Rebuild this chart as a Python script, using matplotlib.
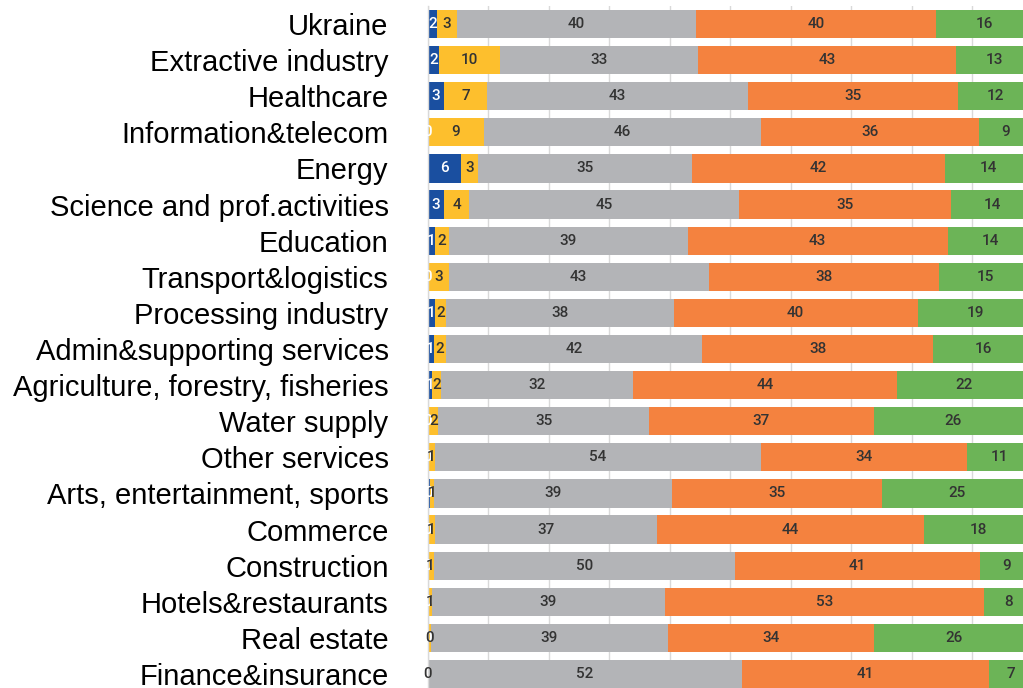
import matplotlib
matplotlib.use("Agg")
import matplotlib.pyplot as plt
import numpy as np

categories = ["Ukraine", "Extractive industry", "Healthcare", "Information&telecom", "Energy",
              "Science and prof.activities", "Education", "Transport&logistics", "Processing industry",
              "Admin&supporting services", "Agriculture, forestry, fisheries", "Water supply",
              "Other services", "Arts, entertainment, sports", "Commerce", "Construction",
              "Hotels&restaurants", "Real estate", "Finance&insurance"]

blue = [1.6, 1.9, 2.8, 0.1, 5.5, 2.8, 1.2, 0.1, 1.2, 1.0, 0.7, 0.1, 0.0, 0.35, 0.1, 0.0, 0.0, 0.1, 0.0]
yellow = [3.2, 10.1, 7.0, 9.2, 2.9, 4.1, 2.4, 3.4, 1.8, 2.0, 1.5, 1.7, 1.3, 0.8, 1.1, 1.0, 0.7, 0.45, 0.0]
gray = [39.6, 32.7, 43.2, 45.9, 35.4, 44.6, 39.4, 43.0, 37.7, 42.4, 31.7, 34.8, 53.8, 39.3, 36.8, 49.8, 38.6, 39.2, 52.0]
orange = [39.7, 42.6, 34.7, 35.9, 41.7, 35.0, 43.0, 38.0, 40.3, 38.2, 43.7, 37.2, 34.1, 34.7, 44.0, 40.6, 52.7, 34.1, 40.8]
green = [15.9, 12.7, 12.4, 8.8, 14.5, 13.6, 14.0, 15.4, 19.0, 16.4, 22.3, 26.2, 10.8, 24.8, 18.0, 8.8, 8.0, 26.2, 7.2]

series = [blue, yellow, gray, orange, green]
colors = ["#1a4fa0", "#fdbf2d", "#b3b4b7", "#f4823f", "#6cb457"]
label_colors = ["white", "#333333", "#333333", "#333333", "#333333"]

W, H = 1023, 688
fig = plt.figure(figsize=(W / 100, H / 100), dpi=100)
x0 = 427.5
scale = 6.05  # px per unit
top_px, bot_px = 5.94, 692.06
ax = fig.add_axes([x0 / W, (H - bot_px) / H, 100 * scale / W, (bot_px - top_px) / H])

y = np.arange(len(categories))
left = np.zeros(len(categories))
for vals, c, lc in zip(series, colors, label_colors):
    vals = np.array(vals)
    ax.barh(y, vals, left=left, height=0.78, color=c, zorder=2, linewidth=0)
    for yi, (l, v) in enumerate(zip(left, vals)):
        ax.text(l + v / 2, yi, f"{v:.0f}", ha="center", va="center", color=lc,
                fontsize=11, family="Roboto", fontweight="medium", zorder=5)
    left = left + vals

ax.set_xlim(0, 100)
ax.set_ylim(len(categories) - 0.5, -0.5)
ax.set_xticks(np.arange(0, 101, 10))
ax.xaxis.grid(True, color="#d9d9d9", linewidth=1, zorder=0)
ax.set_axisbelow(True)
ax.tick_params(axis="x", length=0, labelbottom=False)
ax.set_yticks(y)
ax.set_yticklabels(categories, fontsize=21, family="Liberation Sans")
ax.tick_params(axis="y", length=0, pad=28)
for s in ["top", "right", "bottom"]:
    ax.spines[s].set_visible(False)
ax.spines["left"].set_color("#d9d9d9")
ax.spines["left"].set_linewidth(1)

fig.savefig("out.png", dpi=100)
